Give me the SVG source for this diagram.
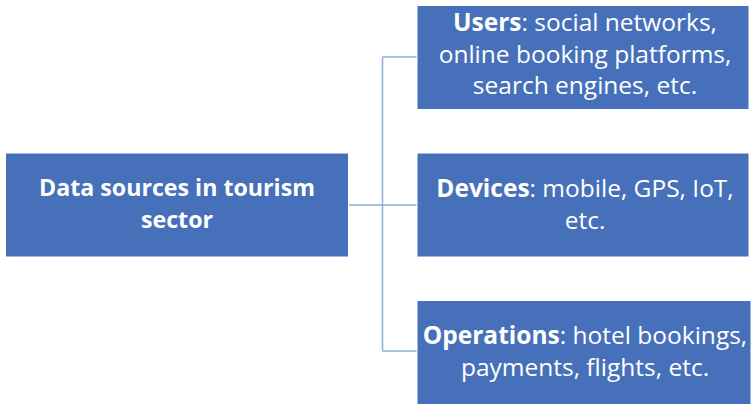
<svg xmlns="http://www.w3.org/2000/svg" width="751" height="404" viewBox="0 0 751 404">
  <style>
    .box { fill: #4770BA; stroke: #ffffff; stroke-width: 1; }
    .conn { fill: none; stroke: #8EA9DB; stroke-width: 1.5; }
    text { font-family: "Open Sans", "Liberation Sans", sans-serif; font-size: 24.5px; fill: #ffffff; text-anchor: middle; }
    .b { font-weight: bold; }
    .root { font-size: 23.2px; }
  </style>
  <rect width="751" height="404" fill="#ffffff"/>
  <g id="connectors">
    <path class="conn" d="M348 205 H382.5 M382.5 57 V351 M382.5 57 H417 M382.5 205 H417 M382.5 351 H417"/>
  </g>
  <g id="root">
    <rect class="box" x="5.5" y="153" width="343" height="104"/>
    <text x="177" y="196" class="b root">Data sources in tourism</text>
    <text x="177" y="228" class="b root">sector</text>
  </g>
  <g id="users">
    <rect class="box" x="417" y="5.5" width="332" height="104"/>
    <text x="585" y="31"><tspan class="b">Users</tspan>: social networks,</text>
    <text x="585" y="63">online booking platforms,</text>
    <text x="585" y="94">search engines, etc.</text>
  </g>
  <g id="devices">
    <rect class="box" x="417" y="153" width="332" height="104"/>
    <text x="585" y="197"><tspan class="b">Devices</tspan>: mobile, GPS, IoT,</text>
    <text x="585" y="229">etc.</text>
  </g>
  <g id="operations">
    <rect class="box" x="417" y="300.5" width="334" height="104"/>
    <text x="585" y="344"><tspan class="b">Operations</tspan>: hotel bookings,</text>
    <text x="585" y="376">payments, flights, etc.</text>
  </g>
</svg>
